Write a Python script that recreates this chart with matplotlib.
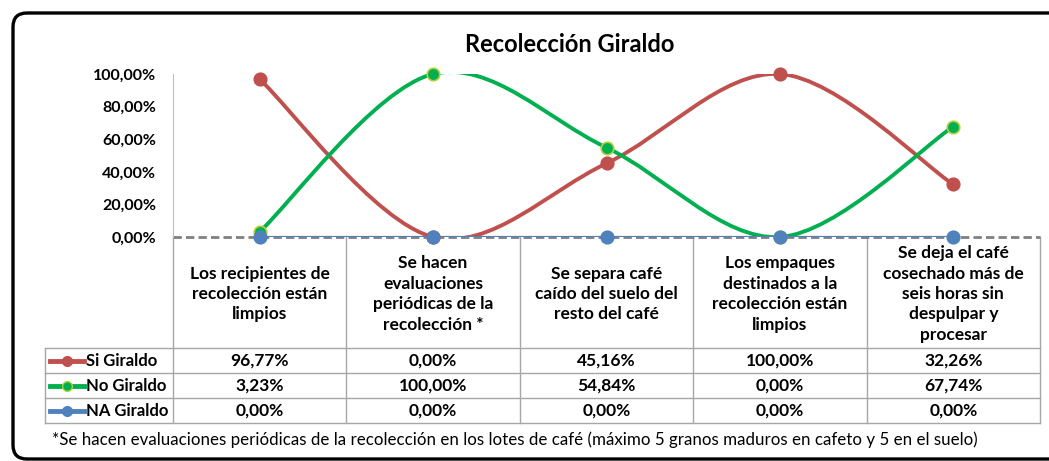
import matplotlib.pyplot as plt
from matplotlib.path import Path
from matplotlib.patches import PathPatch, FancyBboxPatch
from matplotlib.lines import Line2D
import matplotlib.transforms as mtransforms

plt.rcParams['font.family'] = ['Lato', 'DejaVu Sans']

categories = [
    "Los recipientes de\nrecolección están\nlimpios",
    "Se hacen\nevaluaciones\nperiódicas de la\nrecolección *",
    "Se separa café\ncaído del suelo del\nresto del café",
    "Los empaques\ndestinados a la\nrecolección están\nlimpios",
    "Se deja el café\ncosechado más de\nseis horas sin\ndespulpar y\nprocesar",
]
si_giraldo = [96.77, 0.00, 45.16, 100.00, 32.26]
no_giraldo = [3.23, 100.00, 54.84, 0.00, 67.74]
na_giraldo = [0.00, 0.00, 0.00, 0.00, 0.00]
series_names = ["Si Giraldo", "No Giraldo", "NA Giraldo"]
yticks = [0, 20, 40, 60, 80, 100]
footnote = ("*Se hacen evaluaciones periódicas de la recolección en los lotes de café "
            "(máximo 5 granos maduros en cafeto y 5 en el suelo)")

colors = ['#C0504D', '#00B050', '#4F81BD']
edges = ['#C0504D', '#B5CF3A', '#4F81BD']

W, H = 1049, 461
fig = plt.figure(figsize=(W / 100, H / 100), dpi=100)

def fx(px):
    return px / W

def fy(py):
    return 1 - py / H

# pixel overlay for frame and table
ov = fig.add_axes([0, 0, 1, 1])
ov.set_xlim(0, W)
ov.set_ylim(H, 0)
ov.axis('off')

ax = fig.add_axes([fx(173), fy(237), fx(1040) - fx(173), fy(74) - fy(237)])
ax.set_xlim(-0.5, 4.5)
ax.set_ylim(0, 100)
ax.patch.set_alpha(0)
for s in ['top', 'right', 'bottom']:
    ax.spines[s].set_visible(False)
ax.spines['left'].set_color('#BFBFBF')
ax.set_xticks([])
ax.set_yticks(yticks)
ax.set_yticklabels([f"{v:.2f}%".replace('.', ',') for v in yticks],
                   fontweight='bold', fontsize=11.5)
ax.tick_params(axis='y', length=0, pad=12)

# dashed zero line
ax.axhline(0, color='#808080', lw=2, ls=(0, (3, 1.5)), zorder=1, clip_on=False)


def smooth_path(xs, ys):
    pts = list(zip(xs, ys))
    verts = [pts[0]]
    codes = [Path.MOVETO]
    n = len(pts)
    for i in range(n - 1):
        p0 = pts[i - 1] if i > 0 else pts[i]
        p1 = pts[i]
        p2 = pts[i + 1]
        p3 = pts[i + 2] if i + 2 < n else pts[i + 1]
        c1 = (p1[0] + (p2[0] - p0[0]) / 6, p1[1] + (p2[1] - p0[1]) / 6)
        c2 = (p2[0] - (p3[0] - p1[0]) / 6, p2[1] - (p3[1] - p1[1]) / 6)
        verts += [c1, c2, p2]
        codes += [Path.CURVE4] * 3
    return Path(verts, codes)


xs = list(range(len(categories)))
all_series = [si_giraldo, no_giraldo, na_giraldo]
widths = [2.8, 2.8, 1.6]
for k, vals in enumerate(all_series):
    patch = PathPatch(smooth_path(xs, vals), fill=False, edgecolor=colors[k],
                      lw=widths[k], zorder=3 + k, capstyle='round')
    ax.add_patch(patch)
    ax.plot(xs, vals, 'o', ms=9, color=colors[k], mec=edges[k], mew=1.2,
            clip_on=False, zorder=6 + k)

# title
fig.text(fx(570), fy(44), "Recolección Giraldo", ha='center', va='center',
         fontsize=17, fontweight='bold')

# table
bt = mtransforms.blended_transform_factory(ax.transData, ov.transData)
grid_c = '#A6A6A6'
row_lines = [348, 373, 398, 423]
for i in range(len(categories) + 1):
    ov.add_line(Line2D([i - 0.5, i - 0.5], [237, 423], transform=bt, color=grid_c, lw=1))
for yl in row_lines:
    ov.add_line(Line2D([45, 1040], [yl, yl], color=grid_c, lw=1))
ov.add_line(Line2D([45, 45], [348, 423], color=grid_c, lw=1))

fs = 12.5
for i, cat in enumerate(categories):
    ov.text(i, 294, cat, transform=bt, ha='center', va='center', fontsize=fs,
            fontweight='bold', linespacing=1.34, multialignment='center')
    for k, vals in enumerate(all_series):
        yc = (row_lines[k] + row_lines[k + 1]) / 2
        ov.text(i, yc, f"{vals[i]:.2f}%".replace('.', ','), transform=bt,
                ha='center', va='center', fontsize=fs, fontweight='bold')

for k, name in enumerate(series_names):
    yc = (row_lines[k] + row_lines[k + 1]) / 2
    ov.add_line(Line2D([50, 84], [yc, yc], color=colors[k], lw=3.5))
    ov.plot([67], [yc], 'o', ms=7, color=colors[k], mec=edges[k])
    ov.text(86, yc, name, ha='left', va='center', fontsize=12, fontweight='bold')

ov.text(52, 440, footnote, ha='left', va='center', fontsize=12.2)

# frame
frame = FancyBboxPatch((13, 13), 1100, 446, boxstyle='round,pad=0,rounding_size=14',
                       fill=False, edgecolor='black', lw=2.4)
ov.add_patch(frame)

fig.savefig('out.png', dpi=100)
